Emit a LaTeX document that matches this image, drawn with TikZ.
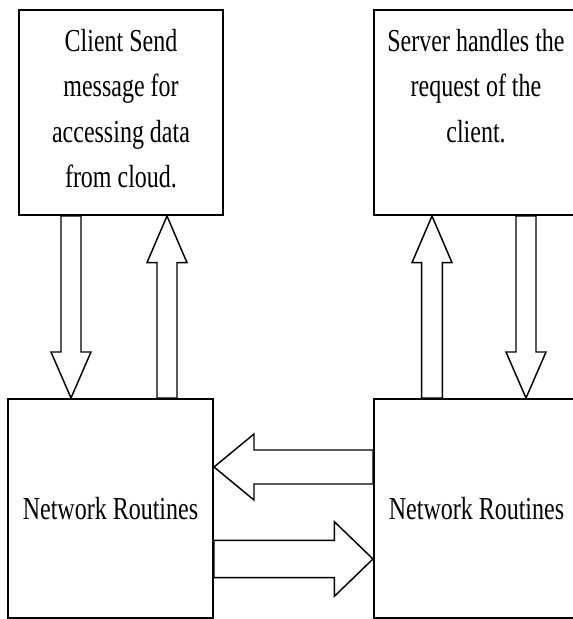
\documentclass[tikz,border=0pt]{standalone}
\usepackage{fontspec}
\setmainfont{Liberation Serif}[FakeStretch=0.75]
\usetikzlibrary{calc,positioning}

\tikzset{
  box/.style={draw, line width=1.5pt, inner sep=0pt},
  boxtext/.style={align=center, inner sep=0pt, font=\fontsize{24}{34}\selectfont},
  % hollow block arrow: shaft half width, head half width, head length
  fat arrow/.style n args={3}{line width=1.1pt,
    to path={($(\tikztotarget)!#3!(\tikztostart)$) coordinate (hb)
      ($(\tikztostart)!#1!90:(\tikztotarget)$) -- ($(hb)!#1!90:(\tikztotarget)$)
      -- ($(hb)!#2!90:(\tikztotarget)$) -- (\tikztotarget)
      -- ($(hb)!#2!-90:(\tikztotarget)$) -- ($(hb)!#1!-90:(\tikztotarget)$)
      -- ($(\tikztostart)!#1!-90:(\tikztotarget)$) -- cycle}},
}

\begin{document}
\begin{tikzpicture}[x=0.75pt,y=0.75pt,yscale=-1]
    \useasboundingbox (0,0) rectangle (573,619);
    %Boxes
    \node[box, minimum width=153pt, minimum height=153.75pt] (client) at (121,112.5) {};
    \node[box, minimum width=153pt, minimum height=153.75pt] (server) at (476,112.5) {};
    \node[box, boxtext, minimum width=153.75pt, minimum height=164.25pt] (netclient) at (110.5,508.5) {Network Routines};
    \node[box, boxtext, minimum width=153.75pt, minimum height=164.25pt] (netserver) at (476.5,508.5) {Network Routines};
    % Text Node
    \node[boxtext, anchor=north] (clienttext) at ($(client.north)+(0,20)$) {Client Send\\message for\\accessing data\\from cloud.};
    % Text Node
    \node[boxtext, anchor=north] (servertext) at ($(server.north)+(0,20)$) {Server handles the\\request of the\\client.};

    %Arrow ends
    \coordinate (sendtop) at ($(client.south)+(-50,0)$);
    \coordinate (sendbot) at (sendtop |- netclient.north);
    \coordinate (recvtop) at ($(client.south)+(46,0)$);
    \coordinate (recvbot) at (recvtop |- netclient.north);
    \coordinate (reqtop) at ($(server.south)+(-44,0)$);
    \coordinate (reqbot) at (reqtop |- netserver.north);
    \coordinate (resptop) at ($(server.south)+(50,0)$);
    \coordinate (respbot) at (resptop |- netserver.north);
    \coordinate (backright) at ($(netserver.west)+(0,-41.5)$);
    \coordinate (backleft) at (backright -| netclient.east);
    \coordinate (outleft) at ($(netclient.east)+(0,50.5)$);
    \coordinate (outright) at (outleft -| netserver.west);

    %Block arrows
    \draw[fat arrow={7.5pt}{15pt}{34.5pt}] (sendtop) to (sendbot);
    \draw[fat arrow={7.5pt}{15pt}{35pt}] (recvbot) to (recvtop);
    \draw[fat arrow={7.8pt}{15pt}{35pt}] (reqbot) to (reqtop);
    \draw[fat arrow={7.5pt}{15pt}{34.5pt}] (resptop) to (respbot);
    \draw[fat arrow={12.75pt}{24.75pt}{30pt}] (backright) to (backleft);
    \draw[fat arrow={13.9pt}{28pt}{29pt}] (outleft) to (outright);
\end{tikzpicture}
\end{document}
